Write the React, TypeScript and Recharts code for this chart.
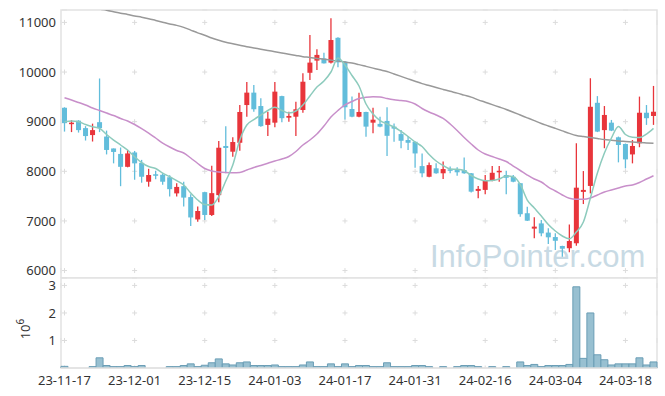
import { ComposedChart, Bar, Line, XAxis, YAxis, CartesianGrid, ReferenceArea } from "recharts";

const dates = [
  "23-11-17", "23-11-20", "23-11-21", "23-11-22", "23-11-23", "23-11-24", "23-11-27", "23-11-28", "23-11-29", "23-11-30",
  "23-12-01", "23-12-04", "23-12-05", "23-12-06", "23-12-07", "23-12-08", "23-12-11", "23-12-12", "23-12-13", "23-12-14",
  "23-12-15", "23-12-18", "23-12-19", "23-12-20", "23-12-21", "23-12-22", "23-12-26", "23-12-27", "23-12-28", "24-01-02",
  "24-01-03", "24-01-04", "24-01-05", "24-01-08", "24-01-09", "24-01-10", "24-01-11", "24-01-12", "24-01-15", "24-01-16",
  "24-01-17", "24-01-18", "24-01-19", "24-01-22", "24-01-23", "24-01-24", "24-01-25", "24-01-26", "24-01-29", "24-01-30",
  "24-01-31", "24-02-01", "24-02-02", "24-02-05", "24-02-06", "24-02-07", "24-02-08", "24-02-13", "24-02-14", "24-02-15",
  "24-02-16", "24-02-19", "24-02-20", "24-02-21", "24-02-22", "24-02-23", "24-02-26", "24-02-27", "24-02-28", "24-02-29",
  "24-03-04", "24-03-05", "24-03-06", "24-03-07", "24-03-08", "24-03-11", "24-03-12", "24-03-13", "24-03-14", "24-03-15",
  "24-03-18", "24-03-19", "24-03-20", "24-03-21", "24-03-22",
];

const opens = [
  9280, 8960, 9020, 8870, 8730, 8990, 8700, 8460, 8350, 8090,
  8380, 8170, 7790, 7940, 7930, 7880, 7555, 7700, 7480, 7030,
  7580, 7120, 7520, 8510, 8395, 8575, 9335, 9585, 9315, 8935,
  8980, 9515, 9080, 9100, 9235, 9985, 10230, 10275, 10190, 10690,
  10210, 9255, 9100, 9195, 8980, 8955, 9015, 8900, 8750, 8630,
  8595, 8105, 7890, 8060, 7960, 8040, 8025, 8025, 7960, 7605,
  7625, 7805, 7980, 7925, 7890, 7760, 7155, 6845, 6950, 6765,
  6675, 6495, 6450, 6550, 7585, 7705, 9380, 8830, 8980, 8685,
  8550, 8340, 8565, 9180, 9115,
];
const highs = [
  9290, 9030, 9030, 8910, 8960, 9870, 8820, 8460, 8480, 8430,
  8410, 8230, 8050, 8010, 7960, 7920, 7760, 7790, 7540, 7290,
  7590, 8110, 8610, 8910, 8685, 9335, 9800, 9740, 9470, 9200,
  9800, 9520, 9200, 9400, 9975, 10745, 10460, 10390, 11085, 10700,
  10220, 9505, 9585, 9200, 9280, 9100, 9290, 8965, 8830, 8710,
  8600, 8360, 8175, 8160, 8195, 8095, 8080, 8280, 7965, 7705,
  7925, 8105, 8105, 8010, 7925, 7765, 7285, 7075, 7020, 6850,
  6750, 6500, 6930, 8565, 8005, 9875, 9515, 9315, 9035, 8700,
  8560, 8630, 9505, 9335, 9720,
];
const lows = [
  8800, 8790, 8780, 8620, 8600, 8790, 8340, 8160, 7700, 8080,
  7830, 7770, 7690, 7840, 7730, 7490, 7490, 7290, 6900, 6985,
  7020, 7100, 7375, 7960, 8295, 8415, 9100, 9200, 8900, 8710,
  8885, 8990, 9000, 8710, 9180, 9840, 10040, 10170, 10170, 10095,
  9045, 9090, 9090, 8695, 8765, 8890, 8310, 8595, 8465, 8430,
  8070, 7880, 7880, 7950, 7845, 7960, 7910, 7950, 7575, 7455,
  7540, 7800, 7790, 7540, 7780, 7085, 7000, 6650, 6690, 6535,
  6415, 6280, 6370, 6500, 7340, 7555, 8790, 8465, 8810, 8180,
  8060, 8160, 8485, 8935, 8935,
];
const closes = [
  8970, 8980, 8830, 8710, 8830, 8870, 8430, 8390, 8090, 8360,
  8160, 7890, 7925, 7910, 7790, 7640, 7685, 7470, 7070, 7200,
  7120, 7560, 8475, 8470, 8590, 9195, 9585, 9250, 8910, 9060,
  9605, 9070, 9115, 9250, 9805, 10190, 10345, 10175, 10645, 10195,
  9290, 9100, 9195, 8900, 9040, 8900, 8715, 8860, 8615, 8575,
  8360, 7960, 8125, 7960, 8045, 8010, 7980, 7960, 7590, 7645,
  7825, 7970, 8010, 7870, 7790, 7135, 7005, 6885, 6750, 6670,
  6600, 6440, 6595, 7670, 7625, 9300, 8800, 9135, 8820, 8530,
  8240, 8510, 9180, 9070, 9200,
];

const ma5 = [
  8999, 9013, 8999, 8943, 8898, 8866, 8741, 8630, 8530, 8429,
  8294, 8177, 8096, 8056, 7965, 7891, 7814, 7724, 7562, 7421,
  7331, 7321, 7488, 7804, 8127, 8630, 8933, 9043, 9134, 9225,
  9289, 9225, 9174, 9215, 9336, 9517, 9698, 9819, 10001, 10283,
  10142, 9930, 9718, 9356, 9154, 9023, 8953, 8892, 8802, 8701,
  8590, 8499, 8338, 8207, 8117, 8046, 8040, 8016, 7915, 7844,
  7810, 7814, 7844, 7905, 7891, 7734, 7421, 7260, 7099, 6928,
  6797, 6696, 6639, 6777, 6978, 7462, 7965, 8368, 8671, 8902,
  8741, 8685, 8681, 8751, 8866,
];
const ma20 = [
  9483, 9436, 9386, 9336, 9275, 9225, 9174, 9124, 9064, 9013,
  8943, 8862, 8771, 8671, 8570, 8489, 8419, 8368, 8268, 8157,
  8056, 8006, 7986, 7976, 7971, 7976, 8026, 8076, 8117, 8161,
  8207, 8248, 8298, 8399, 8530, 8630, 8751, 8912, 9094, 9225,
  9336, 9406, 9467, 9491, 9503, 9497, 9467, 9443, 9426, 9406,
  9356, 9265, 9195, 9134, 9064, 8953, 8822, 8681, 8550, 8429,
  8348, 8298, 8248, 8197, 8106, 8016, 7925, 7844, 7784, 7683,
  7603, 7522, 7456, 7435, 7435, 7462, 7522, 7583, 7623, 7663,
  7703, 7724, 7774, 7844, 7911,
];
const ma120 = [
  11420, 11390, 11360, 11330, 11300, 11270, 11245, 11215, 11185, 11160,
  11130, 11105, 11075, 11040, 11005, 10970, 10940, 10900, 10845, 10790,
  10740, 10685, 10640, 10600, 10570, 10540, 10510, 10485, 10460, 10435,
  10410, 10385, 10360, 10335, 10310, 10295, 10275, 10260, 10240, 10220,
  10200, 10180, 10149, 10114, 10079, 10044, 10010, 9961, 9912, 9863,
  9814, 9767, 9728, 9689, 9650, 9611, 9575, 9535, 9495, 9440,
  9392, 9343, 9295, 9246, 9191, 9134, 9077, 9020, 8964, 8914,
  8864, 8814, 8764, 8722, 8700, 8680, 8660, 8640, 8625, 8610,
  8600, 8590, 8580, 8572, 8564,
];

const volumes = [
  60000, 0, 0, 0, 50000, 370000, 90000, 50000, 50000, 90000,
  50000, 90000, 0, 0, 0, 50000, 50000, 90000, 150000, 50000,
  100000, 190000, 330000, 150000, 110000, 190000, 220000, 90000, 90000, 90000,
  110000, 50000, 50000, 50000, 110000, 220000, 50000, 50000, 150000, 50000,
  150000, 50000, 90000, 90000, 50000, 50000, 190000, 50000, 50000, 50000,
  90000, 90000, 50000, 0, 50000, 0, 50000, 90000, 90000, 50000,
  0, 50000, 0, 50000, 0, 220000, 90000, 130000, 50000, 90000,
  90000, 90000, 130000, 2950000, 350000, 2000000, 480000, 300000, 110000, 150000,
  150000, 150000, 370000, 110000, 220000,
];

const dateTicks = ["23-11-17", "23-12-01", "23-12-15", "24-01-03", "24-01-17", "24-01-31", "24-02-16", "24-03-04", "24-03-18"];
const priceTicks = [6000, 7000, 8000, 9000, 10000, 11000];
const volumeTicks = [1000000, 2000000, 3000000];

const PRICE_MIN = 5850;
const PRICE_MAX = 11250;
const VOL_MAX = 3270000;

const RED = "#e8353b";
const BLUE = "#62bddb";
const FRAME = "#e2e2e2";
const GRID = "#dcdcdc";
const FONT = "'Noto Sans', sans-serif";
const tickStyle = { fontSize: 13, fill: "#333", fontFamily: FONT };

const N = dates.length;

const rows = dates.map((d, i) => ({
  date: d,
  open: opens[i],
  high: highs[i],
  low: lows[i],
  close: closes[i],
  range: [lows[i], highs[i]],
  ma5: ma5[i],
  ma20: ma20[i],
  ma120: ma120[i],
  volume: volumes[i],
}));

function Candle(props: any) {
  const { x, y, width, height, payload } = props;
  if (x == null || y == null) return null;
  const top = Math.min(y, y + height);
  const h = Math.abs(height);
  const span = payload.high - payload.low || 1;
  const py = (v: number) => top + ((payload.high - v) / span) * h;
  const color = payload.close >= payload.open ? RED : BLUE;
  const bodyTop = py(Math.max(payload.open, payload.close));
  const bodyBot = py(Math.min(payload.open, payload.close));
  const cx = x + width / 2;
  return (
    <g>
      <line x1={cx} x2={cx} y1={top} y2={top + h} stroke={color} strokeWidth={1.3} />
      <rect x={x} y={bodyTop} width={width} height={Math.max(bodyBot - bodyTop, 1.5)} fill={color} />
    </g>
  );
}

// grid drawn as small "+" marks at the tick crossings
function hGrid(props: any) {
  const { x1, x2, y1, y2 } = props;
  const bw = (x2 - x1) / N;
  const period = bw * 10;
  const a = bw / 2 - 2.5;
  return (
    <line key={props.key} x1={x1} x2={x2} y1={y1} y2={y2} stroke={GRID}
      strokeDasharray={`0 ${a} 5 ${period - 5 - a}`} />
  );
}

const vGrid = (min: number, max: number, first: number, step: number) => (props: any) => {
  const { x1, x2, y1, y2 } = props;
  const H = Math.abs(y2 - y1);
  const off = ((max - first) / (max - min)) * H;
  const period = (step / (max - min)) * H;
  const a = off - 2.5;
  return (
    <line key={props.key} x1={x1} x2={x2} y1={Math.min(y1, y2)} y2={Math.max(y1, y2)} stroke={GRID}
      strokeDasharray={`0 ${a} 5 ${period - 5 - a}`} />
  );
};

function VolumeUnit(props: any) {
  const vb = props.viewBox || {};
  const cx = vb.x + 30;
  const cy = vb.y + vb.height / 2 + 6;
  return (
    <text transform={`rotate(-90, ${cx}, ${cy})`} x={cx} y={cy} textAnchor="middle" fontSize={13} fill="#333" fontFamily={FONT}>
      <tspan>10</tspan>
      <tspan dy={-6} fontSize={10}>6</tspan>
    </text>
  );
}

export default function App() {
  return (
    <div style={{ position: "absolute", left: 0, top: 0, width: 665, height: 396, background: "#fff", overflow: "hidden" }}>
      <svg width={665} height={396} style={{ position: "absolute", left: 0, top: 0 }}>
        <text x={430} y={267} fontSize={31} fill="#c8dae4" fontFamily="'Liberation Sans', Arial, sans-serif">
          InfoPointer.com
        </text>
      </svg>
      <div style={{ position: "absolute", left: 0, top: 0 }}>
        <ComposedChart width={665} height={278} data={rows} margin={{ top: 10, right: 8, bottom: 0, left: 0 }}>
          <CartesianGrid
            horizontal={hGrid}
            vertical={vGrid(PRICE_MIN, PRICE_MAX, 11000, 1000)}
          />
          <XAxis dataKey="date" hide ticks={dateTicks} interval={0} />
          <YAxis
            domain={[PRICE_MIN, PRICE_MAX]}
            ticks={priceTicks}
            interval={0}
            allowDataOverflow
            width={61}
            tickLine={false}
            axisLine={false}
            tickSize={3}
            tickMargin={2}
            tick={tickStyle}
          />
          <ReferenceArea x1={dates[0]} x2={dates[N - 1]} y1={PRICE_MIN} y2={PRICE_MAX} fill="none" stroke={FRAME} strokeWidth={1.5} />
          <Bar dataKey="range" barSize={5} shape={(p: any) => <Candle {...p} />} isAnimationActive={false} />
          <Line type="monotone" dataKey="ma120" stroke="#999" strokeWidth={1.5} dot={false} isAnimationActive={false} />
          <Line type="monotone" dataKey="ma20" stroke="#c88fca" strokeWidth={1.5} dot={false} isAnimationActive={false} />
          <Line type="monotone" dataKey="ma5" stroke="#8dcbbd" strokeWidth={1.5} dot={false} isAnimationActive={false} />
        </ComposedChart>
      </div>
      <div style={{ position: "absolute", left: 0, top: 272 }}>
        <ComposedChart width={665} height={124} data={rows} margin={{ top: 6, right: 8, bottom: 0, left: 0 }} barCategoryGap={0}>
          <CartesianGrid
            horizontal={hGrid}
            vertical={vGrid(0, VOL_MAX, 3000000, 1000000)}
          />
          <XAxis
            dataKey="date"
            ticks={dateTicks}
            interval={0}
            height={28}
            tickLine={false}
            axisLine={{ stroke: FRAME, strokeWidth: 1.5 }}
            tick={tickStyle}
          />
          <YAxis
            domain={[0, VOL_MAX]}
            ticks={volumeTicks}
            interval={0}
            allowDataOverflow
            width={61}
            tickLine={false}
            axisLine={false}
            tickSize={3}
            tickMargin={2}
            tick={tickStyle}
            tickFormatter={(v: number) => String(v / 1000000)}
            label={<VolumeUnit />}
          />
          <ReferenceArea x1={dates[0]} x2={dates[N - 1]} y1={0} y2={VOL_MAX} fill="none" stroke={FRAME} strokeWidth={1.5} />
          <Bar dataKey="volume" fill="#98c0d1" stroke="#6a9db5" strokeWidth={1} isAnimationActive={false} />
        </ComposedChart>
      </div>
    </div>
  );
}
